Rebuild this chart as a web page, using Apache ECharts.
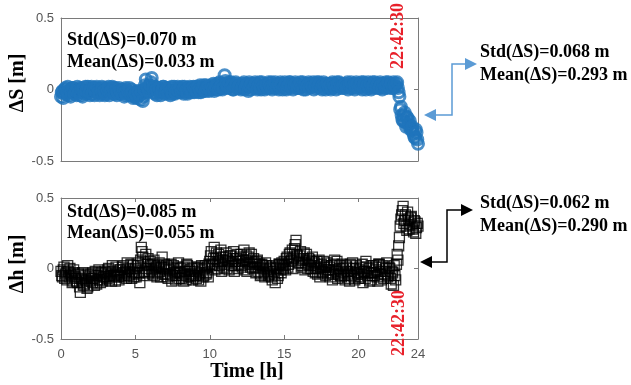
<!DOCTYPE html>
<html><head><meta charset="utf-8">
<script src="https://cdn.jsdelivr.net/npm/echarts@6/dist/echarts.min.js"></script>
<style>html,body{margin:0;padding:0;background:#fff}#c{width:631px;height:385px}</style>
</head><body><div id="c"></div>
<script>
// sampling step of the series (hours)
const timeStep = 0.1;
// ΔS [m], t = 0 .. 24 h
const dS = [
-0.05,-0.01,-0.03,0.01,-0.02,-0.04,0.00,-0.02,0.01,-0.03,
-0.01,0.02,-0.02,-0.04,0.00,0.01,-0.03,-0.01,0.02,-0.02,
0.00,-0.03,0.01,-0.01,0.02,-0.02,-0.04,0.00,0.01,-0.01,
-0.03,0.00,0.02,-0.02,-0.01,0.01,-0.03,0.00,-0.02,0.01,
-0.01,-0.03,0.00,-0.02,-0.04,-0.01,0.01,-0.03,-0.02,-0.05,
-0.03,-0.06,-0.02,-0.04,-0.01,-0.08,0.00,0.07,0.02,-0.01,
0.03,0.08,0.01,-0.03,0.00,-0.02,0.01,-0.04,-0.01,0.02,
-0.02,0.00,-0.03,0.01,-0.01,-0.03,0.02,-0.02,0.00,-0.01,
0.01,-0.02,0.00,0.02,-0.01,-0.03,0.01,0.00,-0.02,0.02,
0.00,-0.01,0.02,0.00,-0.02,0.01,0.03,-0.01,0.01,0.02,
0.00,0.03,0.01,-0.01,0.02,0.04,0.00,0.02,0.03,0.01,
0.10,0.04,0.02,0.05,0.01,0.03,0.00,0.02,0.04,0.01,
0.03,0.00,0.02,0.05,0.01,0.03,-0.01,0.02,0.04,0.01,
0.02,0.04,0.00,0.03,0.01,0.05,0.02,0.00,0.03,0.01,
0.04,0.02,0.00,0.03,0.05,0.01,0.03,0.02,0.04,0.00,
0.02,0.04,0.01,0.03,0.05,0.02,0.00,0.03,0.04,0.01,
0.03,0.05,0.02,0.00,0.04,0.02,0.03,0.01,0.04,0.02,
0.00,0.03,0.05,0.02,0.04,0.01,0.03,0.02,0.00,0.04,
0.02,0.03,0.01,0.04,0.02,0.00,0.03,0.05,0.02,0.01,
0.03,0.04,0.02,0.00,0.03,0.05,0.01,0.03,0.02,0.04,
0.01,0.03,0.05,0.02,0.04,0.00,0.03,0.01,0.04,0.02,
0.03,0.05,0.02,0.04,0.01,0.03,0.00,0.04,0.02,0.03,
0.05,0.02,0.04,0.01,0.03,0.02,0.05,-0.02,-0.14,-0.18,
-0.22,-0.16,-0.26,-0.20,-0.24,-0.28,-0.26,-0.31,-0.34,-0.30,
-0.38
];
// ΔS [m], t = 0.05 .. 23.95 h
const dSB = [
-0.02,-0.06,0.00,-0.03,0.02,-0.01,-0.05,0.01,-0.02,0.00,
-0.04,0.00,0.01,-0.02,-0.05,-0.01,0.02,-0.03,0.00,-0.04,
0.02,-0.01,-0.04,0.01,-0.02,0.00,-0.03,0.02,-0.02,-0.04,
0.01,-0.02,-0.04,0.00,0.02,-0.03,0.01,-0.04,-0.01,-0.03,
0.00,-0.02,-0.05,0.01,-0.03,-0.02,-0.04,0.00,-0.06,-0.02,
-0.05,-0.01,-0.04,-0.07,-0.03,-0.05,0.03,-0.02,0.01,0.03,
0.05,0.00,-0.02,0.02,-0.04,0.01,-0.02,0.00,0.02,-0.03,
0.01,-0.02,0.00,-0.04,0.02,-0.01,-0.03,0.00,0.02,-0.02,
-0.01,0.02,-0.03,0.00,0.01,-0.02,0.02,-0.01,0.01,-0.02,
0.02,0.00,-0.02,0.03,0.01,-0.01,0.00,0.03,0.00,-0.01,
0.02,0.00,0.04,0.02,0.00,0.03,0.05,0.01,0.00,0.04,
0.06,0.01,0.04,0.02,0.05,0.00,0.03,0.05,0.01,0.03,
0.01,0.04,0.02,0.00,0.04,0.02,0.05,0.00,0.02,0.04,
0.05,0.01,0.03,0.05,0.00,0.02,0.04,0.03,0.01,0.05,
0.01,0.05,0.03,0.01,0.02,0.04,0.00,0.05,0.02,0.03,
0.05,0.00,0.03,0.05,0.01,0.04,0.03,0.05,0.01,0.03,
0.01,0.03,0.05,0.02,0.00,0.04,0.05,0.02,0.03,0.05,
0.04,0.01,0.02,0.05,0.03,0.00,0.05,0.03,0.04,0.01,
0.04,0.00,0.05,0.02,0.03,0.05,0.01,0.02,0.04,0.03,
0.01,0.02,0.05,0.03,0.01,0.03,0.04,0.00,0.05,0.02,
0.04,0.02,0.00,0.05,0.02,0.03,0.05,0.02,0.00,0.05,
0.01,0.02,0.04,0.01,0.05,0.02,0.04,0.01,0.05,0.01,
0.03,0.04,0.01,0.05,0.02,0.04,0.01,-0.05,-0.12,-0.21,
-0.18,-0.23,-0.19,-0.25,-0.22,-0.27,-0.29,-0.33,-0.28,-0.35
];
// Δh [m], t = 0 .. 24 h
const dhA = [
-0.02,-0.06,0.01,-0.04,-0.08,-0.02,0.00,-0.05,-0.09,-0.03,
-0.06,-0.10,-0.04,-0.17,-0.08,-0.12,-0.05,-0.09,-0.13,-0.06,
-0.04,-0.10,-0.07,-0.02,-0.11,-0.05,-0.08,-0.03,-0.09,-0.06,
-0.03,-0.07,0.00,-0.05,-0.09,-0.02,-0.06,0.01,-0.04,-0.08,
-0.01,-0.05,0.02,-0.03,-0.07,0.00,-0.04,0.03,-0.02,-0.06,
0.00,-0.04,0.04,-0.10,0.15,0.08,-0.02,0.10,0.03,-0.03,
0.05,-0.01,0.03,-0.05,0.01,-0.03,0.04,-0.06,0.08,0.00,
-0.04,0.02,-0.07,-0.01,0.03,-0.05,0.00,-0.08,-0.02,0.04,
-0.03,-0.07,0.01,-0.04,-0.08,0.02,-0.02,-0.06,0.00,-0.05,
-0.02,-0.07,0.01,-0.04,-0.09,-0.01,-0.05,0.02,-0.03,-0.06,
0.05,0.12,0.02,0.15,0.07,0.00,0.10,0.04,-0.02,0.08,
0.03,0.11,0.06,-0.01,0.09,0.04,0.12,0.02,0.07,0.00,
0.05,0.10,0.01,0.13,0.06,-0.02,0.08,0.03,0.10,0.00,
0.04,-0.03,0.06,0.01,-0.05,0.03,0.00,-0.06,0.02,-0.02,
-0.04,0.01,-0.08,-0.02,-0.10,0.00,-0.05,0.03,-0.03,0.02,
0.05,-0.01,0.08,0.03,0.11,0.06,0.00,0.14,0.20,0.09,
0.04,0.12,0.02,0.07,-0.01,0.10,0.03,0.06,0.00,0.08,
0.02,-0.03,0.05,0.00,-0.06,0.03,-0.02,0.01,-0.05,0.04,
-0.01,-0.06,0.02,-0.04,0.06,-0.02,-0.07,0.00,-0.05,0.03,
-0.03,-0.08,0.01,-0.04,-0.09,-0.02,0.04,-0.06,0.00,-0.03,
-0.07,0.01,-0.04,-0.10,-0.02,0.05,-0.05,0.00,-0.08,-0.03,
0.02,-0.05,-0.01,-0.09,0.03,-0.04,0.01,-0.07,-0.02,0.04,
-0.05,0.00,-0.11,-0.03,0.02,-0.08,0.10,0.16,0.30,0.38,
0.44,0.34,0.30,0.40,0.28,0.36,0.31,0.26,0.33,0.29,
0.30
];
// Δh [m], t = 0.05 .. 23.95 h
const dhB = [
-0.05,-0.01,-0.07,-0.03,0.02,-0.06,-0.04,-0.10,-0.01,-0.07,
-0.09,-0.04,-0.13,-0.07,-0.03,-0.11,-0.08,-0.14,-0.04,-0.09,
-0.07,-0.03,-0.12,-0.05,-0.08,-0.01,-0.10,-0.04,-0.06,-0.02,
-0.06,-0.01,-0.08,-0.04,0.02,-0.05,-0.09,-0.03,-0.06,-0.01,
-0.04,0.01,-0.06,-0.02,0.04,-0.05,-0.01,-0.07,0.02,-0.03,
-0.06,0.02,-0.03,0.06,0.12,-0.05,0.04,0.00,0.07,-0.02,
0.02,-0.04,0.06,0.00,-0.06,0.02,-0.02,0.01,-0.04,0.03,
-0.01,-0.06,0.01,-0.04,-0.09,0.02,-0.03,-0.05,0.01,-0.07,
0.00,-0.05,-0.09,-0.02,0.03,-0.06,-0.01,-0.04,-0.08,0.01,
-0.05,0.00,-0.08,-0.03,0.02,-0.06,0.00,-0.04,0.01,0.03,
0.09,0.03,0.07,-0.01,0.11,0.05,0.02,0.13,0.06,0.01,
0.08,0.00,0.05,0.09,0.02,0.07,-0.02,0.05,0.10,0.03,
0.08,0.02,0.06,-0.01,0.09,0.04,0.11,0.01,0.05,0.07,
0.01,0.05,-0.02,0.03,-0.04,0.02,-0.03,0.04,-0.01,-0.05,
0.00,-0.06,0.02,-0.04,0.01,-0.07,0.03,-0.01,0.04,0.00,
0.02,0.07,0.01,0.10,0.05,0.13,0.08,0.17,0.10,0.04,
0.09,0.01,0.06,0.11,0.04,0.00,0.07,0.02,0.05,-0.02,
0.04,0.00,-0.04,0.06,0.01,-0.03,0.05,-0.01,0.02,-0.04,
0.01,-0.03,-0.08,0.03,-0.01,0.05,-0.04,0.02,-0.06,0.00,
-0.05,0.02,-0.02,-0.07,0.03,-0.05,0.00,-0.08,0.02,-0.04,
-0.01,-0.06,0.03,-0.02,-0.07,0.01,-0.03,-0.09,0.02,-0.05,
-0.03,0.01,-0.06,0.03,-0.02,-0.08,0.02,-0.04,0.00,-0.06,
0.01,-0.07,-0.02,-0.12,-0.05,0.03,0.06,0.22,0.35,0.41,
0.32,0.38,0.27,0.35,0.31,0.37,0.28,0.34,0.25,0.32
];
const xTickLabels = [0, 5, 10, 15, 20, 24];
const xInnerTicks = [5, 10, 15, 20];
const yTickLabels = [-0.5, 0, 0.5];
const yInnerTicks = [0];
const eventLabel = '22:42:30';
const eventTime = 22 + 42 / 60 + 30 / 3600;
const yNames = ['ΔS [m]', 'Δh [m]'];
const xName = 'Time [h]';
const statsTopIn = ['Std(ΔS)=0.070 m', 'Mean(ΔS)=0.033 m'];
const statsTopOut = ['Std(ΔS)=0.068 m', 'Mean(ΔS)=0.293 m'];
const statsBotIn = ['Std(ΔS)=0.085 m', 'Mean(ΔS)=0.055 m'];
const statsBotOut = ['Std(ΔS)=0.062 m', 'Mean(ΔS)=0.290 m'];

const chart = echarts.init(document.getElementById('c'), null, {renderer: 'canvas'});
const boxColor = '#7a7a7a';
const labelFont = {color: '#555', fontFamily: 'Liberation Sans, Arial, sans-serif', fontSize: 13};
const serifB = 'Liberation Serif, Times New Roman, serif';

function xAx(grid, pos, ticks, labels) {
  return {
    type: 'value', gridIndex: grid, position: pos, min: 0, max: 24,
    axisLine: {show: true, onZero: false, lineStyle: {color: boxColor, width: 1}},
    axisTick: ticks ? {show: true, inside: true, length: 4, customValues: ticks, lineStyle: {color: boxColor}} : {show: false},
    axisLabel: labels ? Object.assign({show: true, margin: 9, customValues: labels}, labelFont) : {show: false},
    splitLine: {show: false}
  };
}
function yAx(grid, pos, labels) {
  return {
    type: 'value', gridIndex: grid, position: pos, min: -0.5, max: 0.5,
    axisLine: {show: true, onZero: false, lineStyle: {color: boxColor, width: 1}},
    axisTick: {show: true, inside: true, length: 4, customValues: yInnerTicks, lineStyle: {color: boxColor}},
    axisLabel: labels ? Object.assign({show: true, margin: 7, customValues: labels}, labelFont) : {show: false},
    splitLine: {show: false}
  };
}

function text(x, y, str, opts) {
  return {
    type: 'text', x: x, y: y, z: 100,
    style: Object.assign({text: str, fill: '#000', font: 'bold 18px ' + serifB, textAlign: 'left', textVerticalAlign: 'middle'}, opts || {})
  };
}
function arrowHead(tipX, tipY, dir, color) {
  const L = 12, H = 6;
  const bx = tipX - dir * L;
  return {type: 'polygon', z: 100, shape: {points: [[tipX, tipY], [bx, tipY - H], [bx, tipY + H]]}, style: {fill: color}};
}
function connector(p, color) {
  return [
    {type: 'polyline', z: 99, shape: {points: [[p.lx + 8, p.ly], [p.vx, p.ly], [p.vx, p.ty], [p.rx - 8, p.ty]]}, style: {stroke: color, lineWidth: 1.5, fill: null}},
    arrowHead(p.lx, p.ly, -1, color),
    arrowHead(p.rx, p.ty, 1, color)
  ];
}

const blueStyle = {color: 'rgba(0,0,0,0)', borderColor: '#1f74bb', borderWidth: 3};
const boxStyle = {color: 'rgba(0,0,0,0)', borderColor: '#000', borderWidth: 1.3};

const option = {
  animation: false,
  backgroundColor: '#fff',
  grid: [
    {left: 61, top: 18, width: 357, height: 143},
    {left: 61, top: 198, width: 357, height: 141}
  ],
  xAxis: [xAx(0, 'bottom', null, null), xAx(0, 'top', null, null), xAx(1, 'bottom', xInnerTicks, xTickLabels), xAx(1, 'top', xInnerTicks, null)],
  yAxis: [yAx(0, 'left', yTickLabels), yAx(0, 'right', null), yAx(1, 'left', yTickLabels), yAx(1, 'right', null)],
  series: [
    {
      type: 'scatter', xAxisIndex: 0, yAxisIndex: 0, clip: false,
      symbol: 'circle', symbolSize: 11, itemStyle: blueStyle,
      data: dSB.map((v, i) => [i * timeStep + timeStep / 2, v])
    },
    {
      type: 'scatter', xAxisIndex: 0, yAxisIndex: 0, clip: false,
      symbol: 'circle', symbolSize: 11, itemStyle: blueStyle,
      data: dS.map((v, i) => [i * timeStep, v])
    },
    {
      type: 'scatter', xAxisIndex: 2, yAxisIndex: 2, clip: false,
      symbol: 'rect', symbolSize: 10, itemStyle: boxStyle,
      data: dhB.map((v, i) => [i * timeStep + timeStep / 2, v])
    },
    {
      type: 'scatter', xAxisIndex: 2, yAxisIndex: 2, clip: false,
      symbol: 'rect', symbolSize: 10, itemStyle: boxStyle,
      data: dhA.map((v, i) => [i * timeStep, v])
    }
  ]
};
chart.setOption(option);

const ex0 = chart.convertToPixel({gridIndex: 0}, [eventTime, 0])[0];
const ex1 = chart.convertToPixel({gridIndex: 1}, [eventTime, 0])[0];
const redStyle = {fill: '#e8202a', font: 'bold 18px ' + serifB, textAlign: 'center', textVerticalAlign: 'middle'};

const graphics = [
  text(18, 83, yNames[0], {font: 'bold 20px ' + serifB, textAlign: 'center'}),
  text(18, 264, yNames[1], {font: 'bold 20px ' + serifB, textAlign: 'center'}),
  text(247, 372, xName, {font: 'bold 20px ' + serifB, textAlign: 'center'}),
  text(67, 40, statsTopIn[0]), text(67, 62, statsTopIn[1]),
  text(67, 212, statsBotIn[0]), text(67, 233, statsBotIn[1]),
  text(480, 52, statsTopOut[0]), text(480, 75, statsTopOut[1]),
  text(480, 203, statsBotOut[0]), text(480, 226, statsBotOut[1]),
  {type: 'text', x: ex0, y: 36, rotation: Math.PI / 2, z: 100, style: Object.assign({text: eventLabel}, redStyle)},
  {type: 'text', x: ex1 + 1, y: 323, rotation: Math.PI / 2, z: 100, style: Object.assign({text: eventLabel}, redStyle)}
];
graphics[0].rotation = Math.PI / 2;
graphics[1].rotation = Math.PI / 2;
graphics.push.apply(graphics, connector({lx: 424, ly: 115, vx: 452, ty: 64, rx: 477}, '#5b9bd5'));
graphics.push.apply(graphics, connector({lx: 420, ly: 262, vx: 447, ty: 210, rx: 473}, '#000'));
chart.setOption({graphic: graphics});
</script>
</body></html>
